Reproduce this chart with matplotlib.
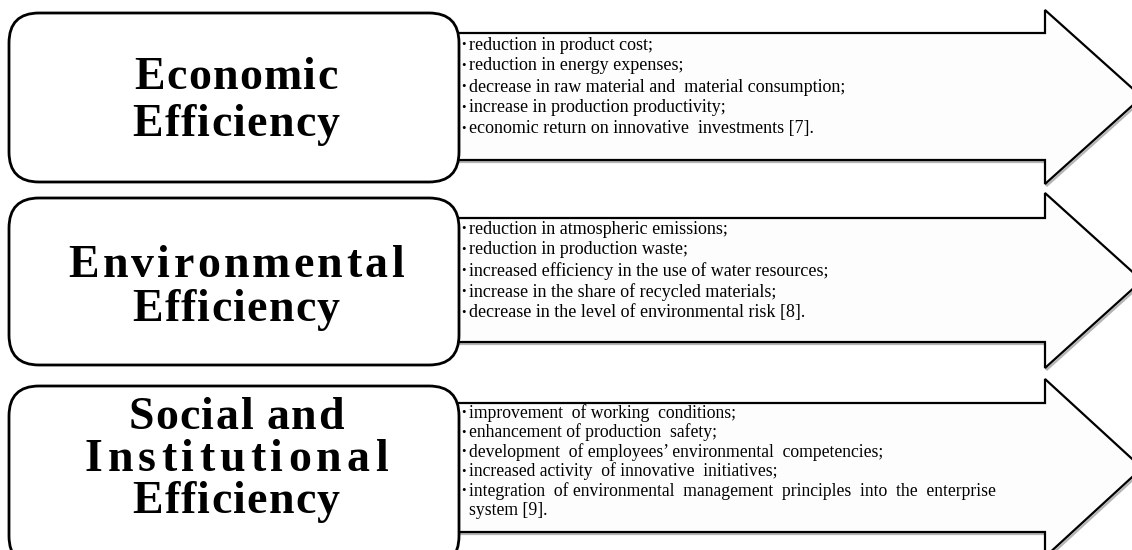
import matplotlib.pyplot as plt
from matplotlib.patches import Polygon, FancyBboxPatch
from matplotlib.font_manager import FontProperties, findfont, get_font

# block titles (left rounded boxes)
titles = [
    ["Economic", "Efficiency"],
    ["Environmental", "Efficiency"],
    ["Social and", "Institutional", "Efficiency"],
]

# bullet items inside the arrows
economic_items = [
    "reduction in product cost;",
    "reduction in energy expenses;",
    "decrease in raw material and  material consumption;",
    "increase in production productivity;",
    "economic return on innovative  investments [7].",
]
environmental_items = [
    "reduction in atmospheric emissions;",
    "reduction in production waste;",
    "increased efficiency in the use of water resources;",
    "increase in the share of recycled materials;",
    "decrease in the level of environmental risk [8].",
]
social_items = [
    "improvement  of working  conditions;",
    "enhancement of production  safety;",
    "development  of employees\u2019 environmental  competencies;",
    "increased activity  of innovative  initiatives;",
    "integration  of environmental  management  principles  into  the  enterprise\nsystem [9].",
]
items = [economic_items, environmental_items, social_items]

# layout in pixel coords (y down)
W, H = 1132, 550
box_x = (9, 459)
shaft_x0 = 440
head_x = 1045
tip_x = 1142
layout = [
    dict(box=(13, 182), shaft=(33, 160), head=(10, 184),
         base=[89, 136], widths=[203, 207], y0=45, step=21, fs=13),
    dict(box=(198, 365), shaft=(218, 342), head=(193, 368),
         base=[277, 321], widths=[335, 207], y0=229, step=21, fs=13),
    dict(box=(386, 566), shaft=(403, 532), head=(379, 557),
         base=[429, 471, 513], widths=[215, 303, 207], y0=413, step=19.5, fs=12.7),
]

serif = ["Liberation Serif", "DejaVu Serif"]
title_pt = 33

fig = plt.figure(figsize=(W / 100, H / 100), dpi=100)
ax = fig.add_axes([0, 0, 1, 1])
ax.set_xlim(0, W)
ax.set_ylim(H, 0)
ax.axis("off")

# glyph advances for letter-spaced titles
tfp = FontProperties(family=serif, weight="bold", size=title_pt)
tfont = get_font(findfont(tfp))
tfont.set_size(title_pt, 100)


def advance(c):
    g = tfont.load_char(ord(c))
    return g.linearHoriAdvance / 65536


def spaced_title(cx, yb, word, target):
    adv = [advance(c) for c in word]
    gap = max((target - sum(adv)) / max(len(word) - 1, 1), 0)
    total = sum(adv) + gap * (len(word) - 1)
    x = cx - total / 2
    for c, a in zip(word, adv):
        if c != " ":
            ax.text(x, yb, c, fontproperties=tfp, ha="left", va="baseline", zorder=4)
        x += a + gap


for ttl, its, L in zip(titles, items, layout):
    st, sb = L["shaft"]
    ht, hb = L["head"]
    mid = (ht + hb) / 2
    pts = [(shaft_x0, st), (head_x, st), (head_x, ht), (tip_x, mid),
           (head_x, hb), (head_x, sb), (shaft_x0, sb)]
    shadow = [(x + 1.5, y + 2) for x, y in pts]
    ax.add_patch(Polygon(shadow, closed=True, fc="none", ec="#b4b4b4", lw=1.6, zorder=1))
    ax.add_patch(Polygon(pts, closed=True, fc="#fdfdfd", ec="black", lw=1.6, zorder=2))

    bt, bb = L["box"]
    ax.add_patch(FancyBboxPatch((box_x[0], bt), box_x[1] - box_x[0], bb - bt,
                                boxstyle="round,pad=0,rounding_size=30",
                                fc="white", ec="black", lw=2.0, zorder=3))
    cx = (box_x[0] + box_x[1]) / 2 + 2
    for word, yb, w in zip(ttl, L["base"], L["widths"]):
        spaced_title(cx, yb, word, w)

    y = L["y0"]
    for it in its:
        ax.text(461, y, "\u2022", family=serif, fontsize=L["fs"] * 0.7,
                ha="left", va="center", zorder=4)
        for p in it.split("\n"):
            ax.text(469, y, p, family=serif, fontsize=L["fs"],
                    ha="left", va="center", zorder=4)
            y += L["step"]

fig.savefig("out.png", dpi=100, facecolor="white")
